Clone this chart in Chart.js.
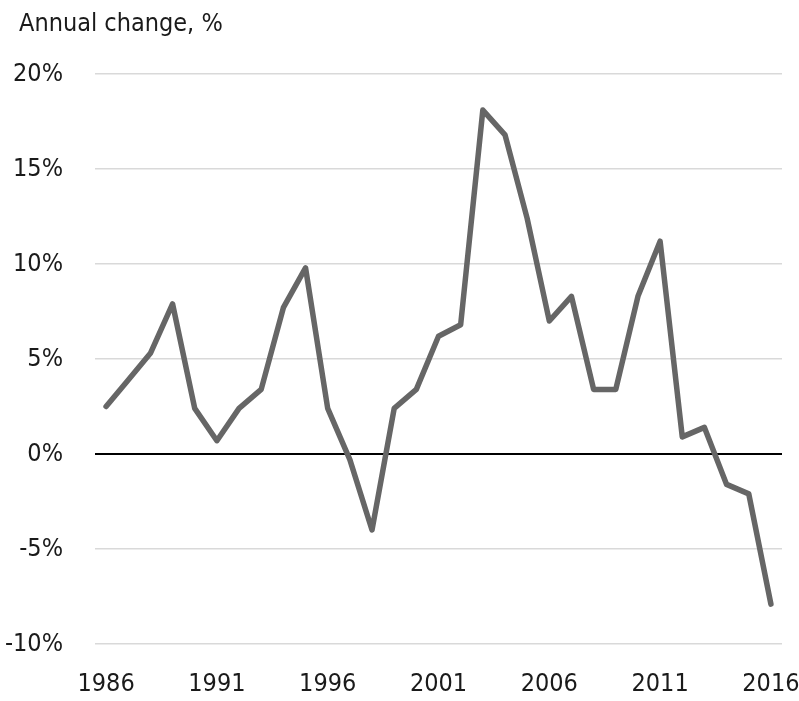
<!DOCTYPE html>
<html>
<head>
<meta charset="utf-8">
<script src="https://cdn.jsdelivr.net/npm/chart.js@4"></script>
<style>
  html, body { margin: 0; padding: 0; background: #fff; }
  #wrap { width: 799px; height: 701px; }
</style>
</head>
<body>
<div id="wrap"><canvas id="chart"></canvas></div>
<script>
const years = [1986, 1987, 1988, 1989, 1990, 1991, 1992, 1993, 1994, 1995, 1996,
  1997, 1998, 1999, 2000, 2001, 2002, 2003, 2004, 2005, 2006,
  2007, 2008, 2009, 2010, 2011, 2012, 2013, 2014, 2015, 2016];
const annualChange = [2.5, 3.9, 5.3, 7.9, 2.4, 0.7, 2.4, 3.4, 7.7, 9.8, 2.4,
  -0.3, -4.0, 2.4, 3.4, 6.2, 6.8, 18.1, 16.8, 12.4, 7.0,
  8.3, 3.4, 3.4, 8.3, 11.2, 0.9, 1.4, -1.6, -2.1, -7.9];
const shownYears = [1986, 1991, 1996, 2001, 2006, 2011, 2016];

const FONT = "'DejaVu Sans Condensed', 'Liberation Sans Narrow', sans-serif";

// nudge the title right without moving the y axis
const titleShift = {
  id: 'titleShift',
  afterLayout(chart) {
    if (chart.titleBlock) chart.titleBlock.left = 19;
  }
};

new Chart(document.getElementById('chart'), {
  type: 'line',
  data: {
    labels: years,
    datasets: [{
      data: annualChange,
      borderColor: '#666666',
      borderWidth: 5.5,
      borderJoinStyle: 'round',
      borderCapStyle: 'round',
      pointRadius: 0,
      tension: 0,
      fill: false,
    }]
  },
  options: {
    responsive: true,
    maintainAspectRatio: false,
    animation: false,
    layout: { padding: { left: 0, right: 17, top: 0, bottom: 0 } },
    plugins: {
      legend: { display: false },
      tooltip: { enabled: false },
      title: {
        display: true,
        text: 'Annual change, %',
        align: 'start',
        color: '#1a1a1a',
        font: { family: FONT, size: 25, weight: 'normal', lineHeight: 1 },
        padding: { top: 12, bottom: 37 },
      },
    },
    scales: {
      x: {
        offset: true,
        border: { display: false },
        afterFit: s => { s.paddingLeft = 0; s.paddingRight = 0; s.height = 57; },
        grid: { display: false, drawTicks: false },
        ticks: {
          autoSkip: false,
          maxRotation: 0,
          padding: 28,
          color: '#1a1a1a',
          font: { family: FONT, size: 25, lineHeight: 1 },
          callback: function (v) {
            const y = years[v];
            return shownYears.includes(y) ? String(y) : null;
          },
        },
      },
      y: {
        min: -10,
        max: 20,
        border: { display: false },
        afterFit: s => { s.width = 95; s.paddingTop = 0; s.paddingBottom = 0; },
        grid: {
          drawTicks: false,
          lineWidth: c => c.tick.value === 0 ? 2 : 1.5,
          color: c => c.tick.value === 0 ? '#000000' : '#d9d9d9',
        },
        ticks: {
          stepSize: 5,
          padding: 32,
          color: '#1a1a1a',
          font: { family: FONT, size: 25, lineHeight: 1 },
          callback: v => v + '%',
        },
      },
    },
  },
  plugins: [titleShift],
});
</script>
</body>
</html>
